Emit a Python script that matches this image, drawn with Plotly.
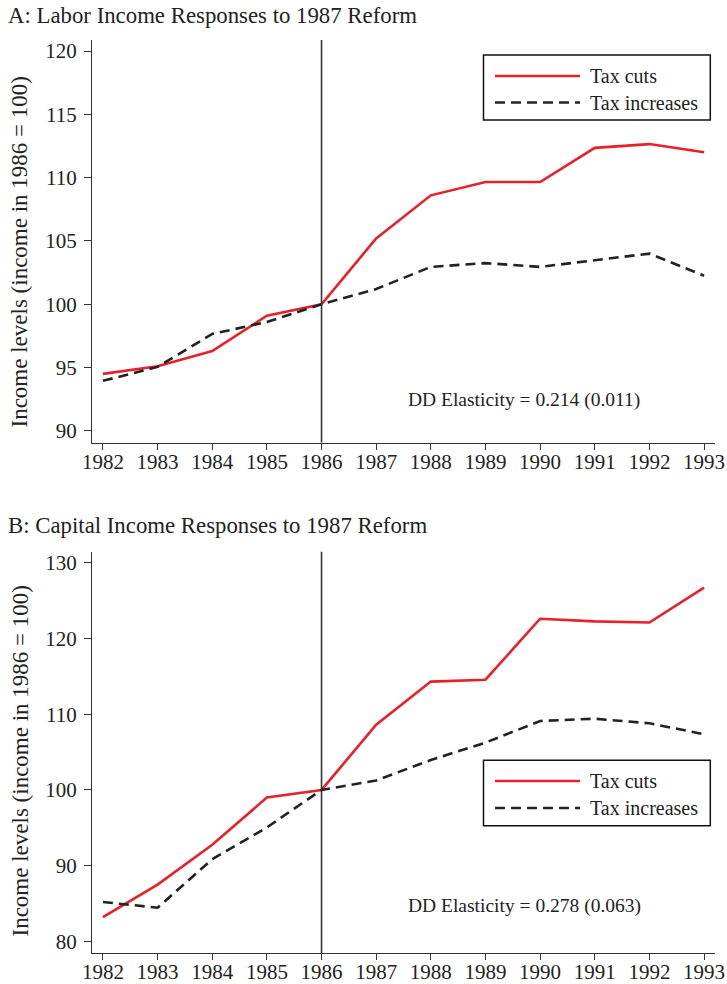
import plotly.graph_objects as go
from plotly.subplots import make_subplots

years = [1982, 1983, 1984, 1985, 1986, 1987, 1988, 1989, 1990, 1991, 1992, 1993]
labor_cuts = [94.5, 95.1, 96.3, 99.1, 100.0, 105.2, 108.6, 109.65, 109.65, 112.35, 112.65, 112.0]
labor_incr = [93.95, 95.05, 97.65, 98.6, 100.0, 101.2, 102.95, 103.25, 102.95, 103.45, 104.0, 102.25]
capital_cuts = [83.2, 87.5, 92.75, 99.0, 100.0, 108.6, 114.3, 114.55, 122.6, 122.25, 122.1, 126.7]
capital_incr = [85.2, 84.45, 90.85, 95.05, 100.0, 101.25, 103.95, 106.25, 109.1, 109.4, 108.8, 107.35]
series_names = ["Tax cuts", "Tax increases"]
panel_titles = ["A: Labor Income Responses to 1987 Reform", "B: Capital Income Responses to 1987 Reform"]
dd_text = ["DD Elasticity = 0.214 (0.011)", "DD Elasticity = 0.278 (0.063)"]
y_title = "Income levels (income in 1986 = 100)"
reform_year = 1986

W, H = 727, 984
ML, MR, MT, MB = 92, 12, 40, 31
PW, PH = W - ML - MR, H - MT - MB
FONT = "Liberation Serif"
RED = "#e8202a"
DARK = "#222222"
AX = "#333333"


def px(x):
    return (x - ML) / PW


def py(y):
    return (H - MB - y) / PH


fig = make_subplots(rows=2, cols=1)
domA = [py(442.5), 1.0]
domB = [0.0, py(551.7)]

for row, (cuts, incr) in enumerate([(labor_cuts, labor_incr), (capital_cuts, capital_incr)], start=1):
    fig.add_trace(go.Scatter(x=years, y=cuts, mode="lines", name=series_names[0],
                             line=dict(color=RED, width=2.6), showlegend=False), row=row, col=1)
    fig.add_trace(go.Scatter(x=years, y=incr, mode="lines", name=series_names[1],
                             line=dict(color=DARK, width=2.6, dash="10px,6px"), showlegend=False), row=row, col=1)

axis_common = dict(showline=True, linecolor=AX, linewidth=1.3, ticks="outside",
                   tickwidth=1.2, tickcolor=AX, showgrid=False, zeroline=False,
                   tickfont=dict(family=FONT, size=21, color=DARK))

fig.update_xaxes(**axis_common, range=[1981.8, 1993.2], tickvals=years, ticktext=[str(y) for y in years],
                 ticklen=6, ticklabelstandoff=-6)
fig.update_yaxes(**axis_common, ticklen=7, ticklabelstandoff=3)
fig.update_layout(
    xaxis=dict(domain=[0, 1], anchor="y"),
    yaxis=dict(domain=domA, range=[89.08, 120.87], tickvals=[90, 95, 100, 105, 110, 115, 120]),
    xaxis2=dict(domain=[0, 1], anchor="y2"),
    yaxis2=dict(domain=domB, range=[78.47, 131.45], tickvals=[80, 90, 100, 110, 120, 130]),
)

shapes = []
annotations = []
# vertical reform line
for xr, yr in [("x", "y domain"), ("x2", "y2 domain")]:
    shapes.append(dict(type="line", xref=xr, yref=yr, x0=reform_year, x1=reform_year, y0=0, y1=1,
                       line=dict(color=AX, width=1.6)))

# legends (box, samples, labels)
legend_boxes = [(55, 120, 76, 102.5), (760.3, 825.7, 781, 808)]
for (top, bot, l1, l2) in legend_boxes:
    shapes.append(dict(type="rect", xref="paper", yref="paper", x0=px(483.5), x1=px(710.3),
                       y0=py(bot), y1=py(top), line=dict(color="#111111", width=1.5), fillcolor="white"))
    shapes.append(dict(type="line", xref="paper", yref="paper", x0=px(495), x1=px(580), y0=py(l1), y1=py(l1),
                       line=dict(color=RED, width=2.6)))
    shapes.append(dict(type="line", xref="paper", yref="paper", x0=px(495), x1=px(580), y0=py(l2), y1=py(l2),
                       line=dict(color=DARK, width=2.6, dash="10px,6px")))
    for yy, name in [(l1, series_names[0]), (l2, series_names[1])]:
        annotations.append(dict(xref="paper", yref="paper", x=px(587.5), y=py(yy), text=name, showarrow=False,
                                xanchor="left", yanchor="middle",
                                font=dict(family=FONT, size=20, color=DARK)))

# DD annotations
for yy, t in [(400, dd_text[0]), (905.5, dd_text[1])]:
    annotations.append(dict(xref="paper", yref="paper", x=px(524), y=py(yy), text=t, showarrow=False,
                            xanchor="center", yanchor="middle", font=dict(family=FONT, size=19.5, color=DARK)))

# panel titles
for yy, t in [(15, panel_titles[0]), (525, panel_titles[1])]:
    annotations.append(dict(xref="paper", yref="paper", x=px(6), y=py(yy), text=t, showarrow=False,
                            xanchor="left", yanchor="middle", font=dict(family=FONT, size=22.8, color=DARK)))

# y-axis titles
for yy in [252, 761]:
    annotations.append(dict(xref="paper", yref="paper", x=px(19.5), y=py(yy), text=y_title, showarrow=False,
                            textangle=-90, xanchor="center", yanchor="middle",
                            font=dict(family=FONT, size=23, color=DARK)))

fig.update_layout(
    width=W, height=H, margin=dict(l=ML, r=MR, t=MT, b=MB, autoexpand=False),
    plot_bgcolor="white", paper_bgcolor="white", showlegend=False,
    shapes=shapes, annotations=annotations,
)

fig.write_html("out.html", config={"displayModeBar": False},
               post_script="document.body.style.margin='0';document.body.style.padding='0';document.body.style.overflow='hidden';")
